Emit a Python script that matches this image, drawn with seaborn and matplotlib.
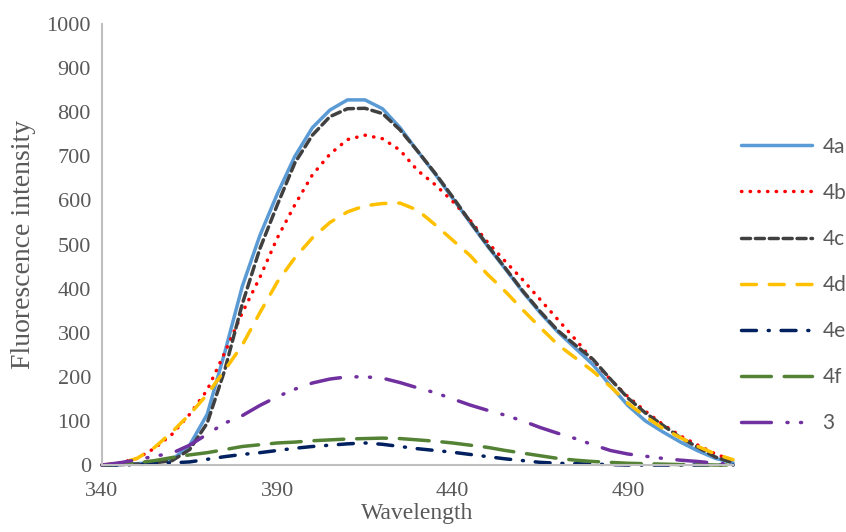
import numpy as np
import pandas as pd
import matplotlib
matplotlib.use("Agg")
import matplotlib.pyplot as plt
import seaborn as sns

wavelength = [340, 345, 350, 355, 360, 365, 370, 375, 380, 385, 390, 395, 400, 405, 410, 415,
              420, 425, 430, 435, 440, 445, 450, 455, 460, 465, 470, 475, 480, 485, 490, 495,
              500, 505, 510, 515, 520]

s_4a = [0, 1, 3, 6, 12, 45, 115, 255, 405, 520, 615, 700, 765, 805, 828, 828,
        808, 765, 712, 660, 605, 550, 496, 445, 393, 345, 302, 265, 228, 180, 135, 100,
        75, 52, 32, 15, 5]
s_4b = [0, 5, 15, 38, 70, 115, 170, 255, 345, 425, 515, 590, 658, 705, 738, 748,
        740, 714, 668, 636, 598, 555, 505, 462, 420, 375, 330, 285, 238, 194, 155, 122,
        92, 66, 45, 25, 10]
s_4c = [0, 1, 2, 5, 10, 35, 95, 215, 365, 490, 590, 685, 748, 790, 808, 809,
        797, 760, 712, 662, 608, 552, 498, 447, 395, 348, 305, 272, 240, 195, 152, 118,
        90, 62, 40, 18, 5]
s_4d = [0, 4, 15, 40, 75, 115, 160, 215, 272, 345, 415, 470, 515, 550, 574, 588,
        593, 594, 578, 545, 510, 475, 432, 394, 352, 312, 273, 243, 213, 178, 140, 110,
        83, 62, 42, 25, 12]
s_4e = [0, 0, 1, 3, 5, 7, 13, 19, 24, 28, 33, 38, 42, 45, 48, 50,
        47, 42, 37, 33, 29, 24, 19, 14, 10, 6, 4, 3, 2, 1, 0, 0,
        0, 0, 0, 0, 0]
s_4f = [0, 2, 5, 10, 17, 23, 28, 35, 42, 46, 50, 52, 55, 57, 59, 60,
        61, 60, 57, 54, 50, 45, 40, 33, 27, 21, 15, 11, 8, 6, 4, 3,
        2, 1, 1, 0, 0]
s_3 = [0, 5, 12, 20, 27, 45, 70, 95, 112, 135, 155, 172, 186, 195, 200, 200,
       197, 187, 175, 164, 150, 136, 124, 113, 100, 85, 72, 60, 46, 33, 25, 20,
       15, 11, 8, 4, 2]

series_names = ["4a", "4b", "4c", "4d", "4e", "4f", "3"]
series_values = [s_4a, s_4b, s_4c, s_4d, s_4e, s_4f, s_3]
colors = ["#5B9BD5", "#FF0000", "#404040", "#FFC000", "#002060", "#548235", "#7030A0"]
styles = ["-", (0, (0.1, 2.4)), (0, (2.6, 1.4)), (0, (4.3, 3.7)), (0, (4.3, 3.4, 0.3, 3.4)),
          (0, (8.6, 3.7)), (0, (8.6, 4.5, 0.3, 3.6, 0.3, 4.5))]

x_ticks = [340, 390, 440, 490]
y_ticks = list(range(0, 1001, 100))

df = pd.DataFrame({"Wavelength": wavelength})
for n, v in zip(series_names, series_values):
    df[n] = v

sns.set_theme(style="white")
plt.rcParams["font.family"] = ["Liberation Serif", "DejaVu Serif"]

fig = plt.figure(figsize=(8.46, 5.32), dpi=100)
ax = fig.add_axes([0.1206, 0.1259, 0.7459, 0.8289])

for n, c, ls in zip(series_names, colors, styles):
    sns.lineplot(data=df, x="Wavelength", y=n, ax=ax, color=c, linestyle=ls,
                 linewidth=2.5, label=n, clip_on=False,
                 dash_capstyle="round", solid_capstyle="round",
                 solid_joinstyle="round", dash_joinstyle="round")

ax.set_xlim(340, 520)
ax.set_ylim(0, 1000)
ax.set_xticks(x_ticks)
ax.set_yticks(y_ticks)
ax.tick_params(axis="both", length=0, labelsize=16, colors="#595959")
ax.tick_params(axis="x", pad=12)
ax.tick_params(axis="y", pad=8)
for s in ["top", "right"]:
    ax.spines[s].set_visible(False)
for s in ["left", "bottom"]:
    ax.spines[s].set_color("#BFBFBF")
    ax.spines[s].set_linewidth(1.5)
ax.grid(False)

ax.set_xlabel("Wavelength", fontsize=17, color="#595959")
ax.set_ylabel("Fluorescence intensity", fontsize=20, color="#595959")
ax.xaxis.set_label_coords(0.5, -0.085)
ax.yaxis.set_label_coords(-0.104, 0.5)

leg = ax.legend(loc="upper left", bbox_to_anchor=(0.876, 0.743),
                bbox_transform=fig.transFigure, frameon=False,
                handlelength=3.4, handletextpad=0.5, labelspacing=1.25,
                borderpad=0, borderaxespad=0,
                prop={"family": "Lato", "size": 15})
for t in leg.get_texts():
    t.set_color("#595959")

fig.savefig("out.png", dpi=100)
